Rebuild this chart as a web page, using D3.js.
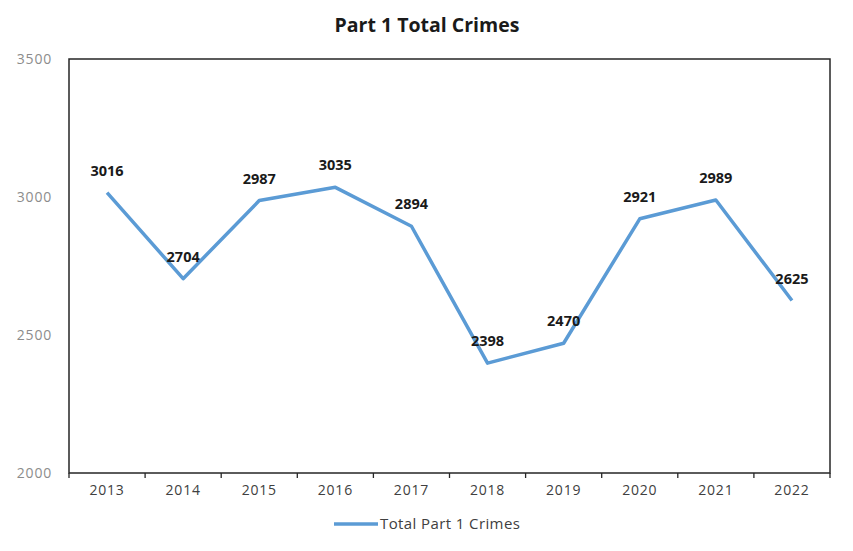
<!DOCTYPE html>
<html>
<head>
<meta charset="utf-8">
<script src="https://cdn.jsdelivr.net/npm/d3@7"></script>
<style>
  body { margin: 0; background: #fff; }
  svg { display: block; font-family: "Open Sans", "Noto Sans", sans-serif; }
</style>
</head>
<body>
<svg id="chart" width="853" height="551"></svg>
<script>
const years = ["2013","2014","2015","2016","2017","2018","2019","2020","2021","2022"];
const totals = [3016, 2704, 2987, 3035, 2894, 2398, 2470, 2921, 2989, 2625];
const yTicks = [2000, 2500, 3000, 3500];
const title = "Part 1 Total Crimes";
const seriesName = "Total Part 1 Crimes";

const svg = d3.select("#chart");
const m = {left: 69, right: 830, top: 59, bottom: 473};

const x = d3.scaleBand().domain(years).range([m.left, m.right]);
const y = d3.scaleLinear().domain([2000, 3500]).range([m.bottom, m.top]);

svg.append("text").attr("x", 427).attr("y", 32).attr("text-anchor", "middle")
  .attr("font-size", 19.5).attr("font-weight", "bold").attr("fill", "#1a1a1a").text(title);

// frame
svg.append("rect").attr("x", m.left).attr("y", m.top)
  .attr("width", m.right - m.left).attr("height", m.bottom - m.top)
  .attr("fill", "none").attr("stroke", "#262626").attr("stroke-width", 1.5);

// x axis
const xAxis = d3.axisBottom(x).tickSize(0).tickPadding(12);
const gx = svg.append("g").attr("transform", `translate(0,${m.bottom})`).call(xAxis);
gx.select(".domain").remove();
gx.selectAll("text").attr("font-size", 14).attr("fill", "#404040")
  .attr("letter-spacing", 0.8).attr("font-family", "Open Sans, sans-serif");
// boundary tick marks
const bounds = years.map(d => x(d)).concat([m.right]);
gx.selectAll("line.b").data(bounds).enter().append("line").attr("class", "b")
  .attr("x1", d => d).attr("x2", d => d).attr("y1", 0).attr("y2", 5)
  .attr("stroke", "#262626").attr("stroke-width", 1.3);

// y axis labels
const yAxis = d3.axisLeft(y).tickValues(yTicks).tickSize(0).tickPadding(17).tickFormat(d3.format("d"));
const gy = svg.append("g").attr("transform", `translate(${m.left},0)`).call(yAxis);
gy.select(".domain").remove();
gy.selectAll("text").attr("font-size", 14).attr("fill", "#8c8c8c")
  .attr("letter-spacing", 0.8).attr("font-family", "Open Sans, sans-serif");

// line
const cx = d => x(d) + x.bandwidth() / 2;
const line = d3.line().x((d, i) => cx(years[i])).y(d => y(d));
svg.append("path").datum(totals).attr("d", line)
  .attr("fill", "none").attr("stroke", "#5b9bd5").attr("stroke-width", 3.5)
  .attr("stroke-linejoin", "round");

// data labels
svg.selectAll("text.lbl").data(totals).enter().append("text").attr("class", "lbl")
  .attr("x", (d, i) => cx(years[i])).attr("y", d => y(d) - 17)
  .attr("text-anchor", "middle").attr("font-size", 14.5).attr("font-weight", "bold")
  .attr("fill", "#1a1a1a").text(d => d);

// legend
svg.append("line").attr("x1", 334).attr("x2", 378).attr("y1", 524).attr("y2", 524)
  .attr("stroke", "#5b9bd5").attr("stroke-width", 3.5);
svg.append("text").attr("x", 380).attr("y", 529).attr("font-size", 15)
  .attr("letter-spacing", 0.4).attr("fill", "#404040").text(seriesName);
</script>
</body>
</html>
